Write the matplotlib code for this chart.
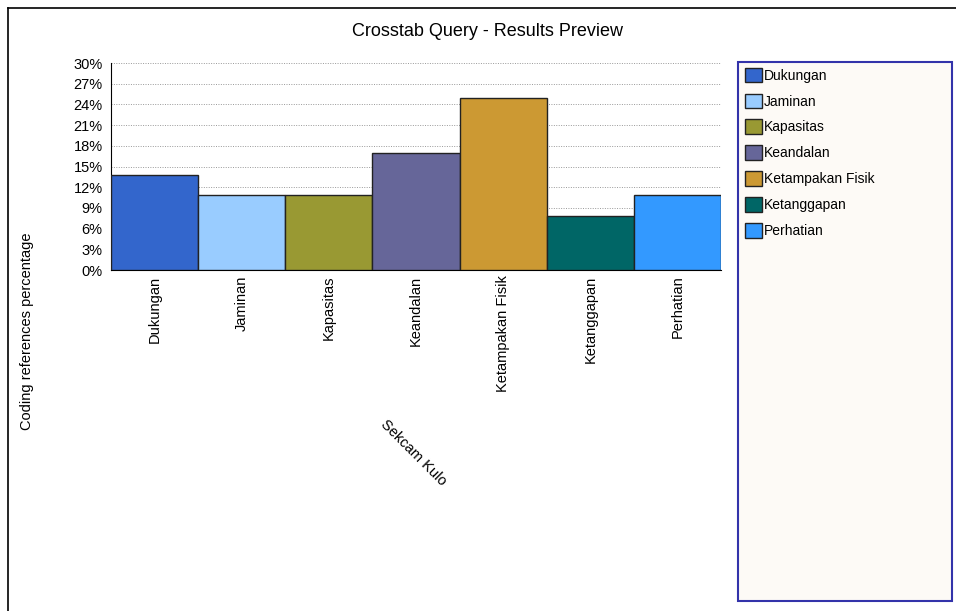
import numpy as np
import matplotlib.pyplot as plt
from matplotlib.patches import Rectangle
from matplotlib.lines import Line2D
from matplotlib.ticker import FuncFormatter

plt.rcParams['font.family'] = ['Liberation Sans', 'DejaVu Sans']

categories = ["Dukungan", "Jaminan", "Kapasitas", "Keandalan",
              "Ketampakan Fisik", "Ketanggapan", "Perhatian"]
values = [13.8, 10.8, 10.8, 17.0, 24.9, 7.8, 10.8]
colors = ["#3366CC", "#99CCFF", "#999933", "#666699",
          "#CC9933", "#006666", "#3399FF"]
yticks = np.arange(0, 31, 3)

W, H = 956, 611
fig = plt.figure(figsize=(W / 100, H / 100), dpi=100)

# outer frame (only top and left edges visible)
fig.add_artist(Line2D([8 / W, 1.0], [1 - 8 / H, 1 - 8 / H], color="black", lw=1.2))
fig.add_artist(Line2D([8 / W, 8 / W], [0, 1 - 8 / H], color="black", lw=1.2))

ax = fig.add_axes([111 / W, 1 - 270 / H, 610 / W, 207 / H])
x = np.arange(len(categories))
bars = ax.bar(x, values, width=1.0, color=colors, edgecolor="#222222", linewidth=1.0,
              zorder=3)
ax.set_xlim(-0.5, len(categories) - 0.5)
ax.set_ylim(0, 30)
ax.set_yticks(yticks)
ax.yaxis.set_major_formatter(FuncFormatter(lambda v, p: f"{int(v)}%"))
ax.yaxis.grid(True, linestyle=(0, (1, 1.5)), color="#999999", linewidth=0.7, zorder=0)
ax.set_xticks(x)
ax.set_xticklabels(categories, rotation=90, va="top", ha="center", fontsize=10.5)
ax.tick_params(axis="y", labelsize=10.5, length=0, pad=6)
ax.tick_params(axis="x", length=0, pad=4)
for s in ["top", "right"]:
    ax.spines[s].set_visible(False)
ax.spines["left"].set_color("black")
ax.spines["bottom"].set_color("black")

fig.text(488 / W, 1 - 31 / H, "Crosstab Query - Results Preview", ha="center",
         va="center", fontsize=13)
fig.text(27 / W, 1 - 331 / H, "Coding references percentage", rotation=90,
         ha="center", va="center", fontsize=10.5)
fig.text(413 / W, 1 - 453 / H, "Sekcam Kulo", rotation=-45, ha="center",
         va="center", fontsize=10.5, rotation_mode="anchor")

# legend box
fig.add_artist(Rectangle((738 / W, 1 - 601 / H), 214 / W, 539 / H,
                         transform=fig.transFigure, facecolor="#FDFAF6",
                         edgecolor="#3333AA", linewidth=1.5))
leg = fig.legend(bars, categories, loc="upper left",
                 bbox_to_anchor=(742 / W, 1 - 65 / H), frameon=False,
                 fontsize=10, handlelength=1.25, handleheight=1.25,
                 handletextpad=0.15, labelspacing=0.78, borderaxespad=0,
                 borderpad=0.2)

fig.savefig("out.png", dpi=100)
